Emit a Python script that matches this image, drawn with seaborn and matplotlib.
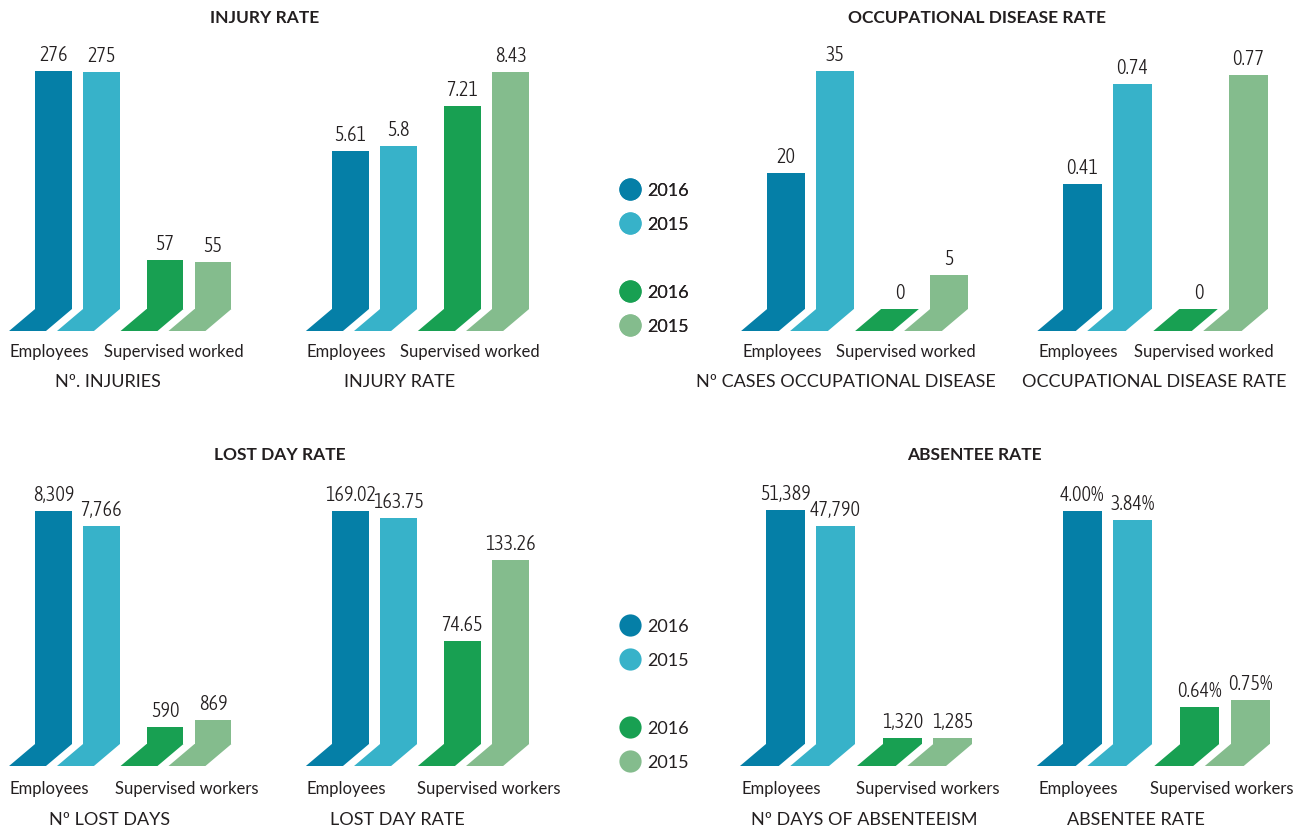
import numpy as np
import pandas as pd
import matplotlib
matplotlib.use("Agg")
import matplotlib.pyplot as plt
import seaborn as sns
from matplotlib.patches import Polygon
from matplotlib.lines import Line2D
from matplotlib import font_manager as fm

# ---------------- data ----------------
groups = ["Employees", "Supervised"]
years = ["2016", "2015"]
cats_top = ["Employees", "Supervised worked"]
cats_bottom = ["Employees", "Supervised workers"]

# order: Employees 2016, Employees 2015, Supervised 2016, Supervised 2015
injuries_count = [276, 275, 57, 55]
injury_rate = [5.61, 5.80, 7.21, 8.43]
occ_cases = [20, 35, 0, 5]
occ_rate = [0.41, 0.74, 0.00, 0.77]
lost_days = [8309, 7766, 590, 869]
lost_day_rate = [169.02, 163.75, 74.65, 133.26]
absentee_days = [51389, 47790, 1320, 1285]
absentee_rate = [4.00, 3.84, 0.64, 0.75]

subtitles = ["N\u00ba. INJURIES", "INJURY RATE", "N\u00ba CASES OCCUPATIONAL DISEASE",
             "OCCUPATIONAL DISEASE RATE", "N\u00ba LOST DAYS", "LOST DAY RATE",
             "N\u00ba DAYS OF ABSENTEEISM", "ABSENTEE RATE"]
section_titles = ["INJURY RATE", "OCCUPATIONAL DISEASE RATE", "LOST DAY RATE", "ABSENTEE RATE"]

# ---------------- style ----------------
C_DB = "#057fa7"
C_LB = "#37b2c9"
C_DG = "#18a052"
C_LG = "#84bc8d"
colors = [C_DB, C_LB, C_DG, C_LG]
TXT = "#231f20"

sns.set_theme(style="white")
plt.rcParams["font.family"] = ["Lato", "DejaVu Sans"]


def _w(f):
    w = f.weight
    if isinstance(w, str):
        return {"light": 300, "normal": 400, "regular": 400, "book": 400}.get(w.lower(), 500)
    return int(w)


def find_condensed():
    cands = []
    for f in fm.fontManager.ttflist:
        st = str(f.stretch).lower()
        fn = f.fname.lower()
        nm = f.name.lower()
        if f.style != "normal" or "mono" in nm:
            continue
        if "condensed" in st or "narrow" in fn or "condensed" in fn or "narrow" in nm or "condensed" in nm:
            if "extra" in st or "ultra" in st or "semi" in st:
                continue
            w = _w(f)
            if w in (300, 400):
                cands.append((0 if w == 300 else 1, f.name, f.fname))
    if not cands:
        return None
    cands.sort()
    return fm.FontProperties(fname=cands[0][2])


_cond = find_condensed()
if _cond is not None:
    VAL_FP = _cond.copy()
    VAL_FP.set_size(14.5)
else:
    VAL_FP = fm.FontProperties(family=["Lato", "DejaVu Sans"], size=11.5)

W, H = 1301, 829
fig = plt.figure(figsize=(W / 100, H / 100), dpi=100)
fig.patch.set_facecolor("white")


def fmt_g(v):
    return f"{v:g}"


def fmt_comma(v):
    return f"{v:,.0f}"


def fmt_2(v):
    return f"{v:.2f}"


def fmt_pct(v):
    return f"{v:.2f}%"


def panel(vals, fmt, cats, subtitle, cx0, u, base_y, maxh, sup_x, sub_x, cat_off, sub_off):
    xl = (-0.85, 1.6)
    left = cx0 + xl[0] * u
    width = (xl[1] - xl[0]) * u
    top = base_y - 275
    height = 310
    ax = fig.add_axes([left / W, 1 - (top + height) / H, width / W, height / H])
    s = maxh / max(vals)
    df = pd.DataFrame({"group": [groups[0]] * 2 + [groups[1]] * 2,
                       "year": years * 2, "value": vals})
    sns.barplot(data=df, x="group", y="value", hue="year", order=groups,
                hue_order=years, width=0.86, gap=0.23, dodge=True,
                errorbar=None, legend=False, ax=ax, saturation=1)
    ax.set_xlim(*xl)
    ax.set_ylim(-(height - 275) / s, 275 / s)
    bars = sorted(ax.patches, key=lambda p: p.get_x())
    dx = 26 / u
    dy = 22 / s
    for p, c, v in zip(bars, colors, vals):
        p.set_facecolor(c)
        p.set_edgecolor("none")
        x0, w = p.get_x(), p.get_width()
        ax.add_patch(Polygon([(x0, 0), (x0 + w, 0), (x0 + w - dx, -dy), (x0 - dx, -dy)],
                             closed=True, facecolor=c, edgecolor="none", lw=0))
        ax.annotate(fmt(v), (x0 + w / 2, p.get_height()), xytext=(0, 7),
                    textcoords="offset pixels", ha="center", va="bottom",
                    fontproperties=VAL_FP, color=TXT)
    ax.annotate(cats[0], (-0.25, 0), xytext=(0, -cat_off), textcoords="offset pixels",
                ha="center", va="center", fontsize=12, color=TXT)
    ax.annotate(cats[1], (sup_x, 0), xytext=(0, -cat_off), textcoords="offset pixels",
                ha="center", va="center", fontsize=12, color=TXT)
    ax.annotate(subtitle, (sub_x, 0), xytext=(0, -sub_off), textcoords="offset pixels",
                ha="center", va="center", fontsize=13, color=TXT)
    ax.axis("off")
    return ax


layout = [
    # values, fmt, cats, cx0, u, base_y, maxh, sup_x, sub_x
    (injuries_count, fmt_g, cats_top, 77.5, 111.5, 310, 238, 0.86, 0.27),
    (injury_rate, fmt_g, cats_top, 374.5, 112, 310, 237, 0.85, 0.22),
    (occ_cases, fmt_g, cats_top, 810.5, 114, 310, 238, 0.84, 0.31),
    (occ_rate, fmt_g, cats_top, 1107.5, 116, 310, 234, 0.83, 0.40),
    (lost_days, fmt_comma, cats_bottom, 77.5, 111.5, 745, 233, 0.98, 0.29),
    (lost_day_rate, fmt_2, cats_bottom, 374.5, 112, 745, 233, 1.02, 0.20),
    (absentee_days, fmt_comma, cats_bottom, 810.5, 117, 745, 234, 1.00, 0.46),
    (absentee_rate, fmt_pct, cats_bottom, 1107.5, 117.5, 745, 233, 0.97, 0.24),
]
for i, (vals, fmt, cats, cx0, u, by, mh, sx, subx) in enumerate(layout):
    top_row = by < 400
    panel(vals, fmt, cats, subtitles[i], cx0, u, by, mh, sx, subx,
          42 if top_row else 44, 72 if top_row else 75)

# section titles
for t, (xp, yp) in zip(section_titles, [(265, 18), (977, 18), (280, 455), (974, 455)]):
    fig.text(xp / W, 1 - yp / H, t, ha="center", va="center", fontsize=12.5,
             fontweight="bold", color=TXT)


# legends
def legend_at(yc):
    hs = [Line2D([], [], ls="", marker="o", markersize=16, color=C_DB, mec="none"),
          Line2D([], [], ls="", marker="o", markersize=16, color=C_LB, mec="none"),
          Line2D([], [], ls="", marker=""),
          Line2D([], [], ls="", marker="o", markersize=16, color=C_DG, mec="none"),
          Line2D([], [], ls="", marker="o", markersize=16, color=C_LG, mec="none")]
    labs = [years[0], years[1], " ", years[0], years[1]]
    leg = fig.legend(hs, labs, loc="center left", bbox_to_anchor=(621 / W, 1 - yc / H),
                     frameon=False, fontsize=13, labelspacing=1.0, handlelength=1.0,
                     handletextpad=0.45, borderpad=0, borderaxespad=0)
    for t in leg.get_texts():
        t.set_color(TXT)
    return leg


l1 = legend_at(259)
l2 = legend_at(695)
fig.add_artist(l1)

fig.savefig("out.png", dpi=100)
